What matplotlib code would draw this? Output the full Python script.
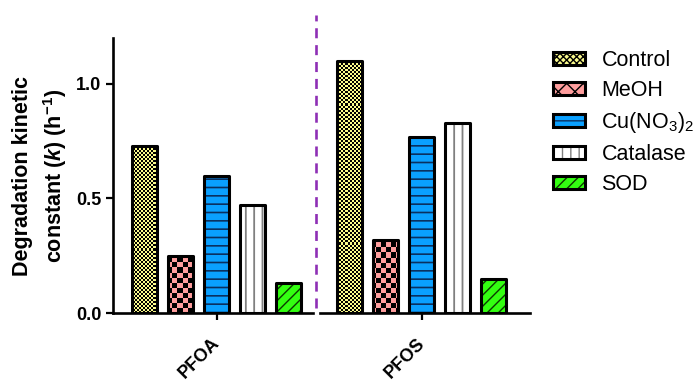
import matplotlib
matplotlib.use('Agg')
import numpy as np
import matplotlib.pyplot as plt
from matplotlib.patches import Patch
from matplotlib.colors import ListedColormap
from matplotlib.legend_handler import HandlerTuple

plt.rcParams['font.family'] = ['Liberation Sans', 'DejaVu Sans']
plt.rcParams['mathtext.fontset'] = 'custom'
plt.rcParams['mathtext.rm'] = 'Liberation Sans'
plt.rcParams['mathtext.it'] = 'Liberation Sans:italic'
plt.rcParams['mathtext.bf'] = 'Liberation Sans:bold'
plt.rcParams['mathtext.bfit'] = 'Liberation Sans:bold:italic'

# data
compounds = ['PFOA', 'PFOS']
treatments = ['Control', 'MeOH', 'Cu(NO$_3$)$_2$', 'Catalase', 'SOD']
control = [0.73, 1.10]
meoh = [0.25, 0.32]
cu_no3 = [0.60, 0.77]
catalase = [0.47, 0.83]
sod = [0.13, 0.15]
series = [control, meoh, cu_no3, catalase, sod]

# fill, hatch, hatch colour for each treatment
face = ['#fbfb8c', '#ff9e9e', '#0aa0ff', '#ffffff', '#33ff11']
hatch = ['xxxxx', 'xx', '--', '||', '///']
hcol = ['black', 'black', '#0a3060', '#808080', '#0b3b00']
hlw = [0.8, 1.8, 1.2, 1.3, 1.0]
# checkerboard fill (cells across, cells up) instead of a hatch
checker = {0: (208, 137), 1: (84, 55)}

xlim = (-0.507, 1.527)
ylim = (0, 1.2)

fig = plt.figure(figsize=(7, 3.81), dpi=100)
ax = fig.add_axes([113 / 700, 1 - 313 / 381, 417 / 700, 275 / 381])

step = 36 / 205
width = 25 / 205
handles = []
for i, vals in enumerate(series):
    pos = [g + (i - 2) * step for g in range(len(compounds))]
    with plt.rc_context({'hatch.linewidth': hlw[i]}):
        if i in checker:
            bars = ax.bar(pos, vals, width, color=face[i], linewidth=0, zorder=2)
            nx, ny = checker[i]
            board = np.indices((ny, nx)).sum(axis=0) % 2
            for b in bars:
                im = ax.imshow(board, extent=(*xlim, *ylim), origin='lower',
                               cmap=ListedColormap([face[i], 'black']),
                               interpolation='nearest', aspect='auto', zorder=2.5)
                im.set_clip_path(b)
        else:
            ax.bar(pos, vals, width, color=face[i], hatch=hatch[i],
                   edgecolor=hcol[i], linewidth=0, zorder=2)
        hp = Patch(facecolor=face[i], hatch=hatch[i], edgecolor=hcol[i], linewidth=0)
    ax.bar(pos, vals, width, fill=False, edgecolor='black', linewidth=2.2,
           joinstyle='round', zorder=3)
    op = Patch(fill=False, edgecolor='black', linewidth=2.2)
    handles.append((hp, op))

ax.set_xlim(*xlim)
ax.set_ylim(*ylim)
ax.set_yticks([0, 0.5, 1.0])
ax.set_yticklabels(['0.0', '0.5', '1.0'], fontsize=13, fontweight='bold')
ax.set_xticks(range(len(compounds)))
ax.set_xticklabels(compounds, fontsize=13, fontweight='bold', rotation=45,
                   ha='right', va='center', rotation_mode='anchor')
ax.tick_params(axis='both', length=5, width=1.6, direction='out')
ax.tick_params(axis='x', pad=15)

for s in ['top', 'right', 'bottom']:
    ax.spines[s].set_visible(False)
ax.spines['left'].set_linewidth(1.9)

# broken x axis
ax.axhline(0, xmin=0, xmax=200 / 417, color='black', lw=1.9, clip_on=False, zorder=4)
ax.axhline(0, xmin=207 / 417, xmax=1, color='black', lw=1.9, clip_on=False, zorder=4)
ax.axvline(0.483, ymin=0.02, ymax=298 / 275, color='#8e2fb5', lw=1.9,
           dashes=(3.8, 2.6), clip_on=False, zorder=1)

ax.set_ylabel('Degradation kinetic\nconstant ($\\mathbfit{k}$) (h$^{\\mathbf{-1}}$)',
              fontsize=15.5, fontweight='bold', linespacing=1.4, labelpad=5)

leg = fig.legend(handles, treatments, handler_map={tuple: HandlerTuple(ndivide=1)},
                 loc='upper left', bbox_to_anchor=(553 / 700, 1 - 50 / 381),
                 frameon=False, fontsize=15.5, handlelength=1.5, handleheight=0.6,
                 handletextpad=0.75, labelspacing=0.42, borderpad=0, borderaxespad=0)

fig.savefig('out.png', dpi=100)
